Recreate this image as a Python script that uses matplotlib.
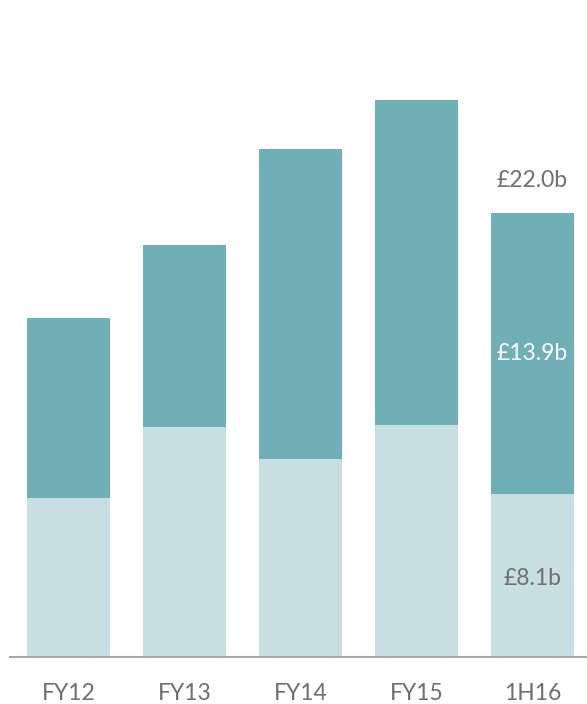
import matplotlib.pyplot as plt
import numpy as np

# ==========================================
# Data
# ==========================================

periods = ["FY12", "FY13", "FY14", "FY15", "1H16"]
lower = [7.9, 11.4, 9.8, 11.5, 8.1]
totals = [16.8, 20.4, 25.2, 27.6, 22.0]
upper = [t - l for t, l in zip(totals, lower)]

dark = "#71AFB6"
light = "#C7DFE3"
grey_text = "#6F6F6F"

plt.rcParams['font.family'] = ['Lato', 'DejaVu Sans']

# ==========================================
# Chart
# ==========================================

fig = plt.figure(figsize=(5.87, 7.04), dpi=100)
ax = fig.add_axes([10 / 587, 47 / 704, 577 / 587, 657 / 704])

x = np.arange(len(periods))

ax.bar(x, lower, width=0.716, color=light)
ax.bar(x, upper, width=0.716, bottom=lower, color=dark)

# labels on the last bar
i = len(periods) - 1
ax.text(x[i], totals[i] + 1.6, "£%.1fb" % totals[i],
        ha="center", va="center", fontsize=16.5, color=grey_text)
ax.text(x[i], lower[i] + upper[i] / 2, "£%.1fb" % upper[i],
        ha="center", va="center", fontsize=16.5, color="white")
ax.text(x[i], lower[i] / 2 - 0.15, "£%.1fb" % lower[i],
        ha="center", va="center", fontsize=16.5, color=grey_text)

ax.set_xlim(-0.504, 4.47)
ax.set_ylim(0, 32.56)

ax.set_xticks(x)
ax.set_xticklabels(periods, fontsize=16.5, color=grey_text)
ax.tick_params(axis="x", length=0, pad=19)
ax.set_yticks([])

for side in ["top", "left", "right"]:
    ax.spines[side].set_visible(False)
ax.spines["bottom"].set_color("#A6A6A6")
ax.spines["bottom"].set_linewidth(1.5)

fig.savefig("out.png", dpi=100)
